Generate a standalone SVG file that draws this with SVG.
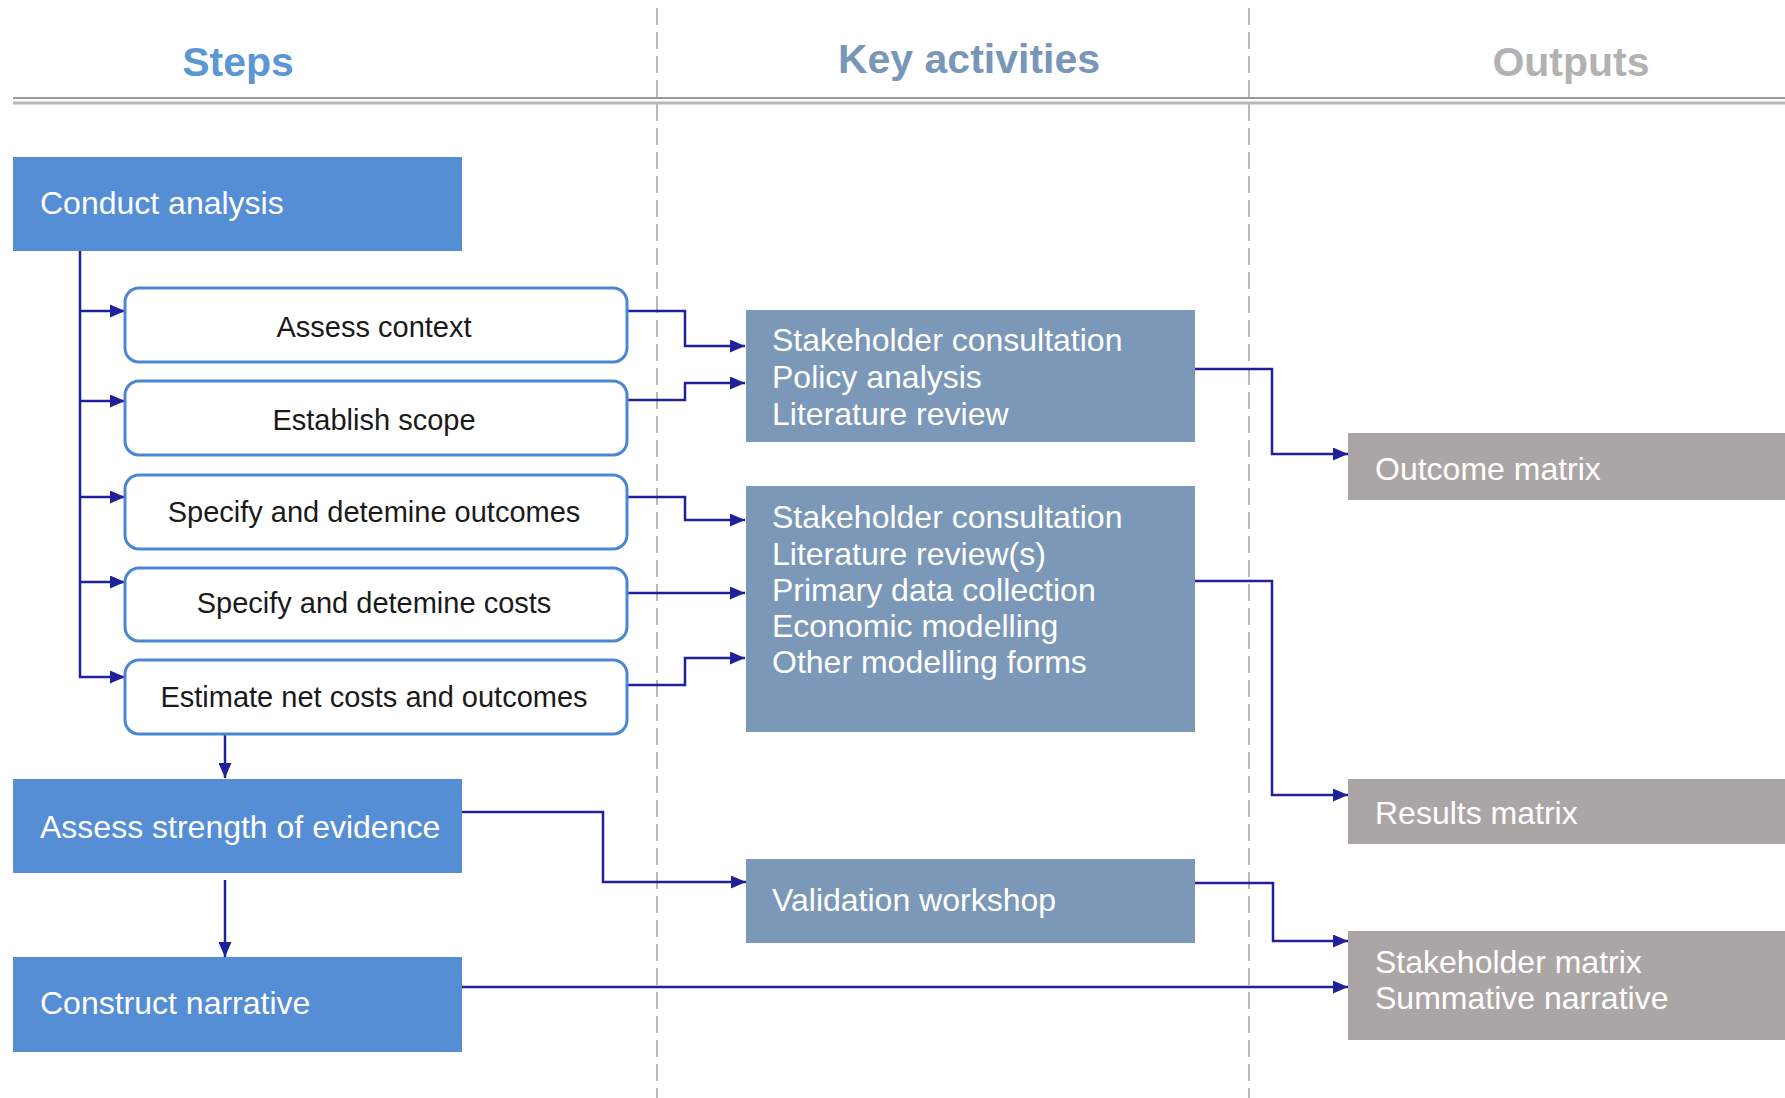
<svg xmlns="http://www.w3.org/2000/svg" width="1785" height="1098" viewBox="0 0 1785 1098">
<style>
text{font-family:"Liberation Sans",Arial,sans-serif}
.hd{font-size:41px;font-weight:bold}
.step{fill:#558ed5}
.sub{fill:#ffffff;stroke:#4a87d2;stroke-width:3}
.act{fill:#7c98b8}
.out{fill:#aba6a6}
.wt{fill:#ffffff;font-size:32px}
.bk{fill:#1a1a1a;font-size:29px;text-anchor:middle}
.cn{fill:none;stroke:#20209a;stroke-width:2.5}
.dash{stroke:#a8a8a8;stroke-width:1.6;stroke-dasharray:17 7}
</style>
<defs>
<marker id="ah" markerUnits="userSpaceOnUse" markerWidth="15" markerHeight="13" refX="15" refY="6.5" orient="auto">
<path d="M0,0 L15,6.5 L0,13 z" fill="#20209a"/>
</marker>
</defs>
<rect width="1785" height="1098" fill="#ffffff"/>
<g id="grid">
<line class="dash" x1="657" y1="8" x2="657" y2="1098"/>
<line class="dash" x1="1249" y1="8" x2="1249" y2="1098"/>
<line x1="13" y1="98" x2="1785" y2="98" stroke="#9a9a9a" stroke-width="2.2"/>
<line x1="13" y1="103" x2="1785" y2="103" stroke="#b8b8b8" stroke-width="3.2"/>
</g>
<g id="headers">
<text class="hd" x="238" y="76" text-anchor="middle" fill="#5b96d6">Steps</text>
<text class="hd" x="969" y="73" text-anchor="middle" fill="#7896b8">Key activities</text>
<text class="hd" x="1571" y="76" text-anchor="middle" fill="#b2b2b2">Outputs</text>
</g>
<g id="connectors">
<path class="cn" d="M80,251 V677 H125" marker-end="url(#ah)"/>
<path class="cn" d="M80,311 H125" marker-end="url(#ah)"/>
<path class="cn" d="M80,401 H125" marker-end="url(#ah)"/>
<path class="cn" d="M80,497 H125" marker-end="url(#ah)"/>
<path class="cn" d="M80,582 H125" marker-end="url(#ah)"/>
<path class="cn" d="M627,311 H685 V346 H745" marker-end="url(#ah)"/>
<path class="cn" d="M627,400 H685 V383 H745" marker-end="url(#ah)"/>
<path class="cn" d="M627,497 H685 V520 H745" marker-end="url(#ah)"/>
<path class="cn" d="M627,593 H745" marker-end="url(#ah)"/>
<path class="cn" d="M627,685 H685 V658 H745" marker-end="url(#ah)"/>
<path class="cn" d="M1195,369 H1272 V454 H1348" marker-end="url(#ah)"/>
<path class="cn" d="M1195,581 H1272 V795 H1348" marker-end="url(#ah)"/>
<path class="cn" d="M462,812 H603 V882 H746" marker-end="url(#ah)"/>
<path class="cn" d="M1195,883 H1273 V941 H1348" marker-end="url(#ah)"/>
<path class="cn" d="M462,987 H1348" marker-end="url(#ah)"/>
<path class="cn" d="M225,734 V778" marker-end="url(#ah)"/>
<path class="cn" d="M225,880 V957" marker-end="url(#ah)"/>
</g>
<g id="conduct-analysis">
<rect class="step" x="13" y="157" width="449" height="94"/>
<text class="wt" x="40" y="214">Conduct analysis</text>
</g>
<g id="assess-context">
<rect class="sub" x="125" y="288" width="502" height="74" rx="14"/>
<text class="bk" x="374" y="337">Assess context</text>
</g>
<g id="establish-scope">
<rect class="sub" x="125" y="381" width="502" height="74" rx="14"/>
<text class="bk" x="374" y="430">Establish scope</text>
</g>
<g id="specify-outcomes">
<rect class="sub" x="125" y="475" width="502" height="74" rx="14"/>
<text class="bk" x="374" y="522">Specify and detemine outcomes</text>
</g>
<g id="specify-costs">
<rect class="sub" x="125" y="568" width="502" height="73" rx="14"/>
<text class="bk" x="374" y="613">Specify and detemine costs</text>
</g>
<g id="estimate-net">
<rect class="sub" x="125" y="660" width="502" height="74" rx="14"/>
<text class="bk" x="374" y="707">Estimate net costs and outcomes</text>
</g>
<g id="assess-strength">
<rect class="step" x="13" y="779" width="449" height="94"/>
<text class="wt" x="40" y="838">Assess strength of evidence</text>
</g>
<g id="construct-narrative">
<rect class="step" x="13" y="957" width="449" height="95"/>
<text class="wt" x="40" y="1014">Construct narrative</text>
</g>
<g id="activities-1">
<rect class="act" x="746" y="310" width="449" height="132"/>
<text class="wt" x="772" y="351">Stakeholder consultation</text>
<text class="wt" x="772" y="388">Policy analysis</text>
<text class="wt" x="772" y="425">Literature review</text>
</g>
<g id="activities-2">
<rect class="act" x="746" y="486" width="449" height="246"/>
<text class="wt" x="772" y="528">Stakeholder consultation</text>
<text class="wt" x="772" y="565">Literature review(s)</text>
<text class="wt" x="772" y="601">Primary data collection</text>
<text class="wt" x="772" y="637">Economic modelling</text>
<text class="wt" x="772" y="673">Other modelling forms</text>
</g>
<g id="validation-workshop">
<rect class="act" x="746" y="859" width="449" height="84"/>
<text class="wt" x="772" y="911">Validation workshop</text>
</g>
<g id="outcome-matrix">
<rect class="out" x="1348" y="433" width="437" height="67"/>
<text class="wt" x="1375" y="480">Outcome matrix</text>
</g>
<g id="results-matrix">
<rect class="out" x="1348" y="779" width="437" height="65"/>
<text class="wt" x="1375" y="824">Results matrix</text>
</g>
<g id="stakeholder-matrix">
<rect class="out" x="1348" y="931" width="437" height="109"/>
<text class="wt" x="1375" y="973">Stakeholder matrix</text>
<text class="wt" x="1375" y="1009">Summative narrative</text>
</g>
</svg>
